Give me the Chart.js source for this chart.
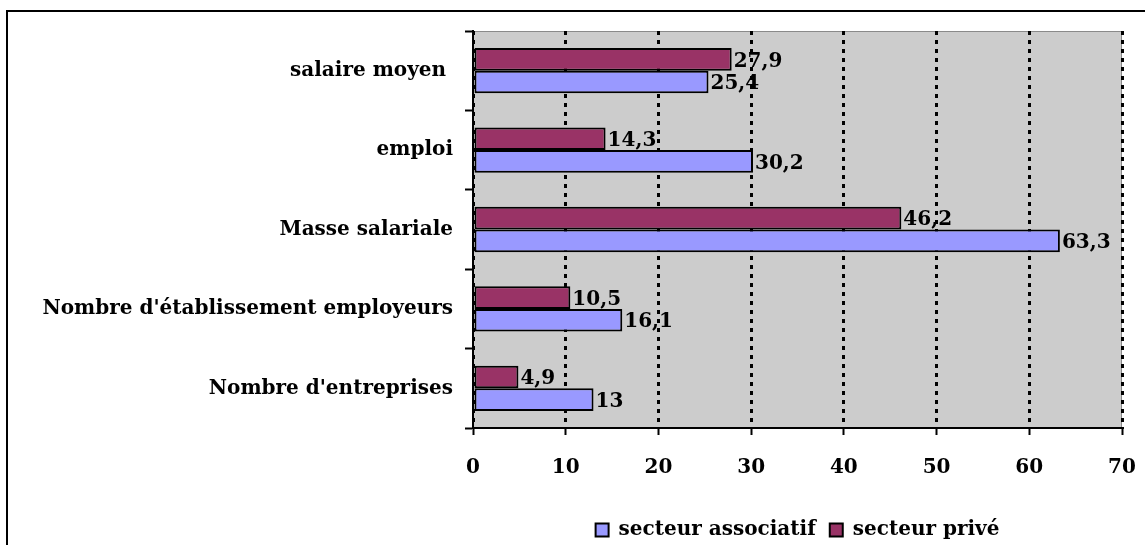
<!DOCTYPE html>
<html>
<head>
<meta charset="utf-8">
<script src="https://cdn.jsdelivr.net/npm/chart.js"></script>
<style>
  html, body { margin: 0; padding: 0; background: #fff; overflow: hidden; }
  #cadre { position: absolute; left: 6px; top: 10px; width: 1700px; height: 600px; border: 2px solid #000; }
  #zone { position: absolute; left: 0; top: 0; width: 1145px; height: 545px; }
</style>
</head>
<body>
<div id="cadre"></div>
<div id="zone"><canvas id="graphique"></canvas></div>
<script>
const categories = ['salaire moyen ', 'emploi', 'Masse salariale', "Nombre d'établissement employeurs", "Nombre d'entreprises"]
const secteurPrive = [27.9, 14.3, 46.2, 10.5, 4.9]
const secteurAssociatif = [25.4, 30.2, 63.3, 16.1, 13]
const ticksX = [0, 10, 20, 30, 40, 50, 60, 70]

const police = 'DejaVu Serif'

// fond gris de la zone de tracé
const fondGris = {
  id: 'fondGris',
  beforeDraw(chart) {
    const { ctx, chartArea: a } = chart
    ctx.save()
    ctx.fillStyle = '#cccccc'
    ctx.fillRect(a.left, a.top, a.right - a.left, a.bottom - a.top)
    ctx.strokeStyle = '#8a8a8a'
    ctx.lineWidth = 1
    ctx.strokeRect(a.left + 0.5, a.top + 0.5, a.right - a.left - 1, a.bottom - a.top - 1)
    ctx.restore()
  }
}

// valeurs écrites au bout des barres
const etiquettes = {
  id: 'etiquettes',
  afterDatasetsDraw(chart) {
    const ctx = chart.ctx
    ctx.save()
    ctx.font = 'bold 20px "' + police + '"'
    ctx.fillStyle = '#000'
    ctx.textAlign = 'left'
    ctx.textBaseline = 'middle'
    chart.data.datasets.forEach((ds, i) => {
      chart.getDatasetMeta(i).data.forEach((bar, j) => {
        const txt = String(ds.data[j]).replace('.', ',')
        ctx.fillText(txt, bar.x + 2, bar.y + 2)
      })
    })
    ctx.restore()
  }
}

new Chart(document.getElementById('graphique'), {
  type: 'bar',
  data: {
    labels: categories,
    datasets: [
      {
        label: 'secteur privé',
        data: secteurPrive,
        backgroundColor: '#993366',
        borderColor: '#000',
        borderWidth: 2,
        borderSkipped: false
      },
      {
        label: 'secteur associatif',
        data: secteurAssociatif,
        backgroundColor: '#9999ff',
        borderColor: '#000',
        borderWidth: 2,
        borderSkipped: false
      }
    ]
  },
  options: {
    indexAxis: 'y',
    responsive: true,
    maintainAspectRatio: false,
    animation: false,
    categoryPercentage: 0.57,
    barPercentage: 1,
    layout: { padding: { top: 31, right: 23, left: 0, bottom: -5 } },
    scales: {
      x: {
        min: 0,
        max: 70,
        afterBuildTicks(scale) {
          scale.ticks = ticksX.map(v => ({ value: v }))
        },
        afterFit(scale) {
          scale.height = 78
          scale.paddingLeft = 0
          scale.paddingRight = 0
        },
        border: { display: true, color: '#000', width: 2, dash: [4, 5] },
        grid: {
          color: '#000',
          lineWidth: 3,
          tickLength: 7,
          tickColor: '#000',
          tickWidth: 2,
          tickBorderDash: []
        },
        ticks: {
          color: '#000',
          padding: 21,
          font: { family: police, size: 20, weight: 'bold' }
        }
      },
      y: {
        afterFit(scale) { scale.width = 473 },
        border: { display: true, color: '#000', width: 2 },
        grid: {
          drawOnChartArea: false,
          tickLength: 8,
          tickColor: '#000',
          tickWidth: 2
        },
        ticks: {
          color: '#000',
          padding: 12,
          font: { family: police, size: 20, weight: 'bold' }
        }
      }
    },
    plugins: {
      // légende centrée sous la zone de tracé, pas sous tout le canevas
      legend: {
        position: 'bottom',
        fullSize: false,
        reverse: true,
        labels: {
          color: '#000',
          boxWidth: 13,
          boxHeight: 13,
          padding: 14,
          font: { family: police, size: 20, weight: 'bold' }
        }
      },
      tooltip: { enabled: false }
    }
  },
  plugins: [fondGris, etiquettes]
})
</script>
</body>
</html>
